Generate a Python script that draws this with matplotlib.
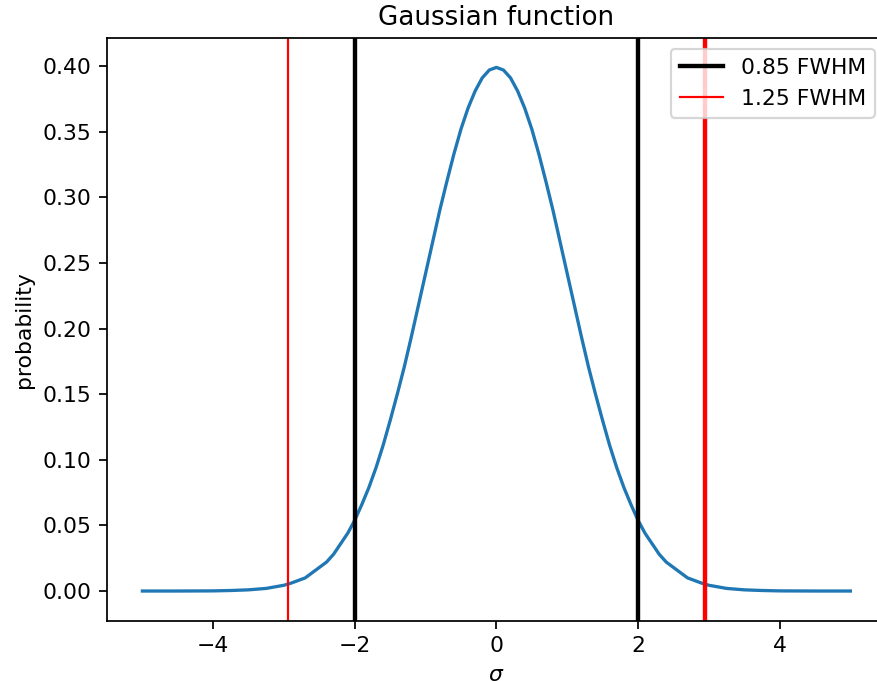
import numpy as np
import matplotlib
matplotlib.use('Agg')
import matplotlib.pyplot as plt

# curva (sigma, probabilidad)
x = [-5.0, -4.5, -4.0, -3.75, -3.5, -3.25,
     -3.0, -2.9, -2.8, -2.7, -2.6, -2.5, -2.4, -2.3, -2.2, -2.1,
     -2.0, -1.9, -1.8, -1.7, -1.6, -1.5, -1.4, -1.3, -1.2, -1.1,
     -1.0, -0.9, -0.8, -0.7, -0.6, -0.5, -0.4, -0.3, -0.2, -0.1,
     0.0, 0.1, 0.2, 0.3, 0.4, 0.5, 0.6, 0.7, 0.8, 0.9,
     1.0, 1.1, 1.2, 1.3, 1.4, 1.5, 1.6, 1.7, 1.8, 1.9,
     2.0, 2.1, 2.2, 2.3, 2.4, 2.5, 2.6, 2.7, 2.8, 2.9,
     3.0, 3.25, 3.5, 3.75, 4.0, 4.5, 5.0]
y = [0.000, 0.000, 0.0001, 0.0004, 0.0009, 0.002,
     0.0044, 0.006, 0.008, 0.010, 0.014, 0.018, 0.022, 0.028, 0.036, 0.044,
     0.054, 0.066, 0.079, 0.094, 0.111, 0.130, 0.150, 0.171, 0.194, 0.218,
     0.242, 0.266, 0.290, 0.312, 0.333, 0.352, 0.368, 0.381, 0.391, 0.397,
     0.399, 0.397, 0.391, 0.381, 0.368, 0.352, 0.333, 0.312, 0.290, 0.266,
     0.242, 0.218, 0.194, 0.171, 0.150, 0.130, 0.111, 0.094, 0.079, 0.066,
     0.054, 0.044, 0.036, 0.028, 0.022, 0.018, 0.014, 0.010, 0.008, 0.006,
     0.0044, 0.002, 0.0009, 0.0004, 0.0001, 0.000, 0.000]

# lineas verticales
fwhm_085 = 2.0
fwhm_125 = 2.94

dpi = 157.5
fig = plt.figure(figsize=(877 / dpi, 681 / dpi), dpi=dpi)
ax = fig.add_axes([0.122, 0.088, 0.888, 0.856])

ax.plot(x, y)
ax.axvline(-fwhm_085, color='k', lw=2, label='0.85 FWHM')
ax.axvline(fwhm_085, color='k', lw=2)
ax.axvline(-fwhm_125, color='r', lw=1, label='1.25 FWHM')
ax.axvline(fwhm_125, color='r', lw=2)

ax.set_ylim(-0.0229, 0.4213)
ax.set_xlabel(r'$\sigma$')
ax.set_ylabel('probability')
ax.set_title('Gaussian function')
ax.legend(loc='upper right')

fig.savefig('out.png', dpi=dpi)
